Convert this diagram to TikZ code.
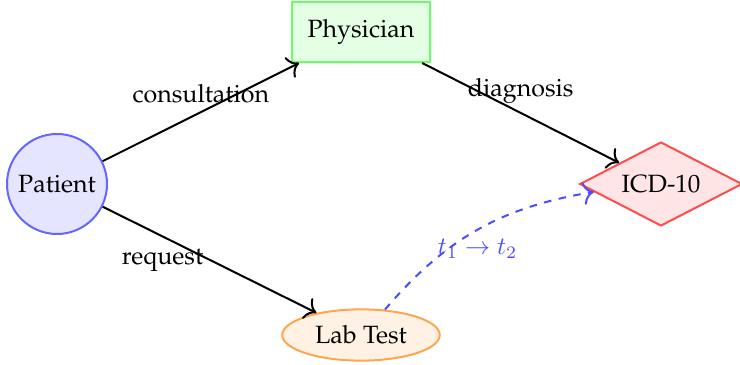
\documentclass[tikz,border=0pt]{standalone}
\usepackage[T1]{fontenc}
\usepackage{palatino}
\usetikzlibrary{shapes.geometric,arrows.meta}
\begin{document}
\begin{tikzpicture}[x=0.4pt,y=-0.4pt,
  base/.style={thick,font=\normalsize},
  pat/.style={base,circle,draw=blue!60,fill=blue!10,minimum size=40pt,inner sep=0pt},
  phys/.style={base,rectangle,draw=green!60,fill=green!10,minimum width=55pt,minimum height=24pt},
  icd/.style={base,diamond,aspect=2.2,draw=red!70,fill=red!10,minimum width=65pt,minimum height=33.6pt,inner sep=0pt},
  lab/.style={base,ellipse,draw=orange!70,fill=orange!10,minimum width=63pt,minimum height=20.5pt,inner sep=0pt},
  tip/.style={-{To[scale=1.3]}},
  conn/.style={tip,thick,black},
  flow/.style={tip,thick,dashed,blue!70}]
\useasboundingbox (0,0) rectangle (740,365);
\node[pat]  (patient)   at (57,184)  {Patient};
\node[phys] (physician) at (361,32)  {Physician};
\node[icd]  (icd)       at (661,184) {ICD-10};
\node[lab]  (labtest)   at (361,335) {Lab Test};
\draw[conn] (patient) -- node[midway,above] {consultation} (physician);
\draw[conn] (physician) -- node[midway,above] {diagnosis} (icd);
\draw[conn] (patient) -- node[pos=0.28,below,yshift=-1.6pt] {request} (labtest);
\draw[flow] (labtest) to[bend left=20] node[midway,below] {$t_1\to t_2$} (icd);
\end{tikzpicture}
\end{document}
